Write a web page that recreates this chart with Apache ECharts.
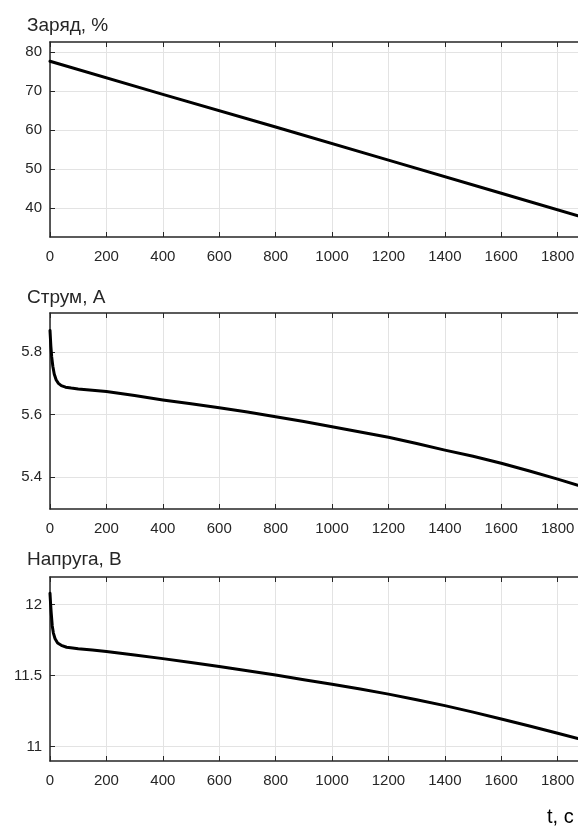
<!DOCTYPE html>
<html>
<head>
<meta charset="utf-8">
<script src="https://cdn.jsdelivr.net/npm/echarts@6/dist/echarts.min.js"></script>
<style>
  html, body { margin: 0; padding: 0; background: #fff; }
  #chart { width: 578px; height: 827px; }
</style>
</head>
<body>
<div id="chart"></div>
<script>
// time axis, seconds
const xTicks = [0, 200, 400, 600, 800, 1000, 1200, 1400, 1600, 1800]
const xMax = 1872

// Заряд, %
const chargeT = [0, 400, 800, 1200, 1600, 1872]
const chargeV = [77.7, 69.2, 60.8, 52.3, 43.8, 38.0]
const chargeTicks = [40, 50, 60, 70, 80]

// Струм, А
const currentT = [0, 3, 6, 10, 15, 22, 30, 40, 55, 75, 100, 150, 200, 300, 400, 500, 600, 700, 800, 900, 1000, 1100, 1200, 1300, 1400, 1500, 1600, 1700, 1800, 1872]
const currentV = [5.87, 5.82, 5.785, 5.755, 5.73, 5.711, 5.70, 5.693, 5.688, 5.685, 5.682, 5.678, 5.674, 5.661, 5.647, 5.635, 5.622, 5.608, 5.593, 5.578, 5.561, 5.544, 5.527, 5.507, 5.486, 5.466, 5.444, 5.419, 5.393, 5.373]
const currentTicks = [5.4, 5.6, 5.8]

// Напруга, В
const voltageT = [0, 2, 4, 8, 12, 18, 27, 40, 59, 80, 100, 150, 200, 300, 400, 500, 600, 700, 800, 900, 1000, 1100, 1200, 1300, 1400, 1500, 1600, 1700, 1800, 1872]
const voltageV = [12.08, 12.01, 11.95, 11.85, 11.80, 11.76, 11.73, 11.714, 11.70, 11.695, 11.69, 11.68, 11.67, 11.645, 11.62, 11.593, 11.565, 11.535, 11.504, 11.472, 11.44, 11.406, 11.37, 11.331, 11.289, 11.243, 11.195, 11.146, 11.095, 11.057]
const voltageTicks = [11, 11.5, 12]

const titles = ['Заряд, %', 'Струм, А', 'Напруга, В']
const xName = 't, c'

const font = "'Liberation Sans', Arial, sans-serif"
const ink = '#262626'

const grids = [
    {left: 50, right: 0, top: 42, height: 195},
    {left: 50, right: 0, top: 313, height: 196},
    {left: 50, right: 0, top: 577, height: 184}
]
const yRanges = [[32.56, 82.64], [5.297, 5.926], [10.899, 12.195]]
const yTicks = [chargeTicks, currentTicks, voltageTicks]

function pairs(t, v) {
    return t.map((x, i) => [x, v[i]])
}

function xAxis(i, top) {
    return {
        type: 'value',
        gridIndex: i,
        position: top ? 'top' : 'bottom',
        min: 0,
        max: xMax,
        axisLine: {show: true, lineStyle: {color: ink, width: 1.5}},
        axisTick: {show: true, inside: true, length: 5, customValues: xTicks, lineStyle: {color: ink}},
        axisLabel: {
            show: !top, customValues: xTicks, margin: 12, color: ink, fontSize: 15, fontFamily: font,
            formatter: v => String(v)
        },
        splitLine: {show: !top, lineStyle: {color: '#e3e3e3', width: 1}}
    }
}

function yAxis(i) {
    return {
        type: 'value',
        gridIndex: i,
        min: yRanges[i][0],
        max: yRanges[i][1],
        axisLine: {show: true, lineStyle: {color: ink, width: 1.5}},
        axisTick: {show: true, inside: true, length: 5, customValues: yTicks[i], lineStyle: {color: ink}},
        axisLabel: {
            customValues: yTicks[i], margin: 8, color: ink, fontSize: 15, fontFamily: font,
            formatter: v => String(v)
        },
        splitLine: {show: true, lineStyle: {color: '#e3e3e3', width: 1}}
    }
}

function line(i, t, v) {
    return {
        type: 'line',
        xAxisIndex: i,
        yAxisIndex: i,
        data: pairs(t, v),
        showSymbol: false,
        smooth: false,
        lineStyle: {color: '#000', width: 3, join: 'round', cap: 'round'},
        animation: false
    }
}

const titleTops = [16, 288, 550]

const chart = echarts.init(document.getElementById('chart'), null, {renderer: 'canvas'})
chart.setOption({
    backgroundColor: '#fff',
    animation: false,
    title: titles.map((text, i) => ({
        text: text,
        left: 27,
        top: titleTops[i],
        padding: 0,
        textStyle: {fontSize: 19, fontWeight: 'normal', color: ink, fontFamily: font}
    })).concat([{
        text: xName,
        left: 547,
        top: 807,
        padding: 0,
        textStyle: {fontSize: 20, fontWeight: 'normal', color: '#000', fontFamily: font}
    }]),
    grid: grids,
    xAxis: [0, 1, 2].map(i => xAxis(i, false)).concat([0, 1, 2].map(i => xAxis(i, true))),
    yAxis: [0, 1, 2].map(i => yAxis(i)),
    series: [
        line(0, chargeT, chargeV),
        line(1, currentT, currentV),
        line(2, voltageT, voltageV)
    ]
})
</script>
</body>
</html>
